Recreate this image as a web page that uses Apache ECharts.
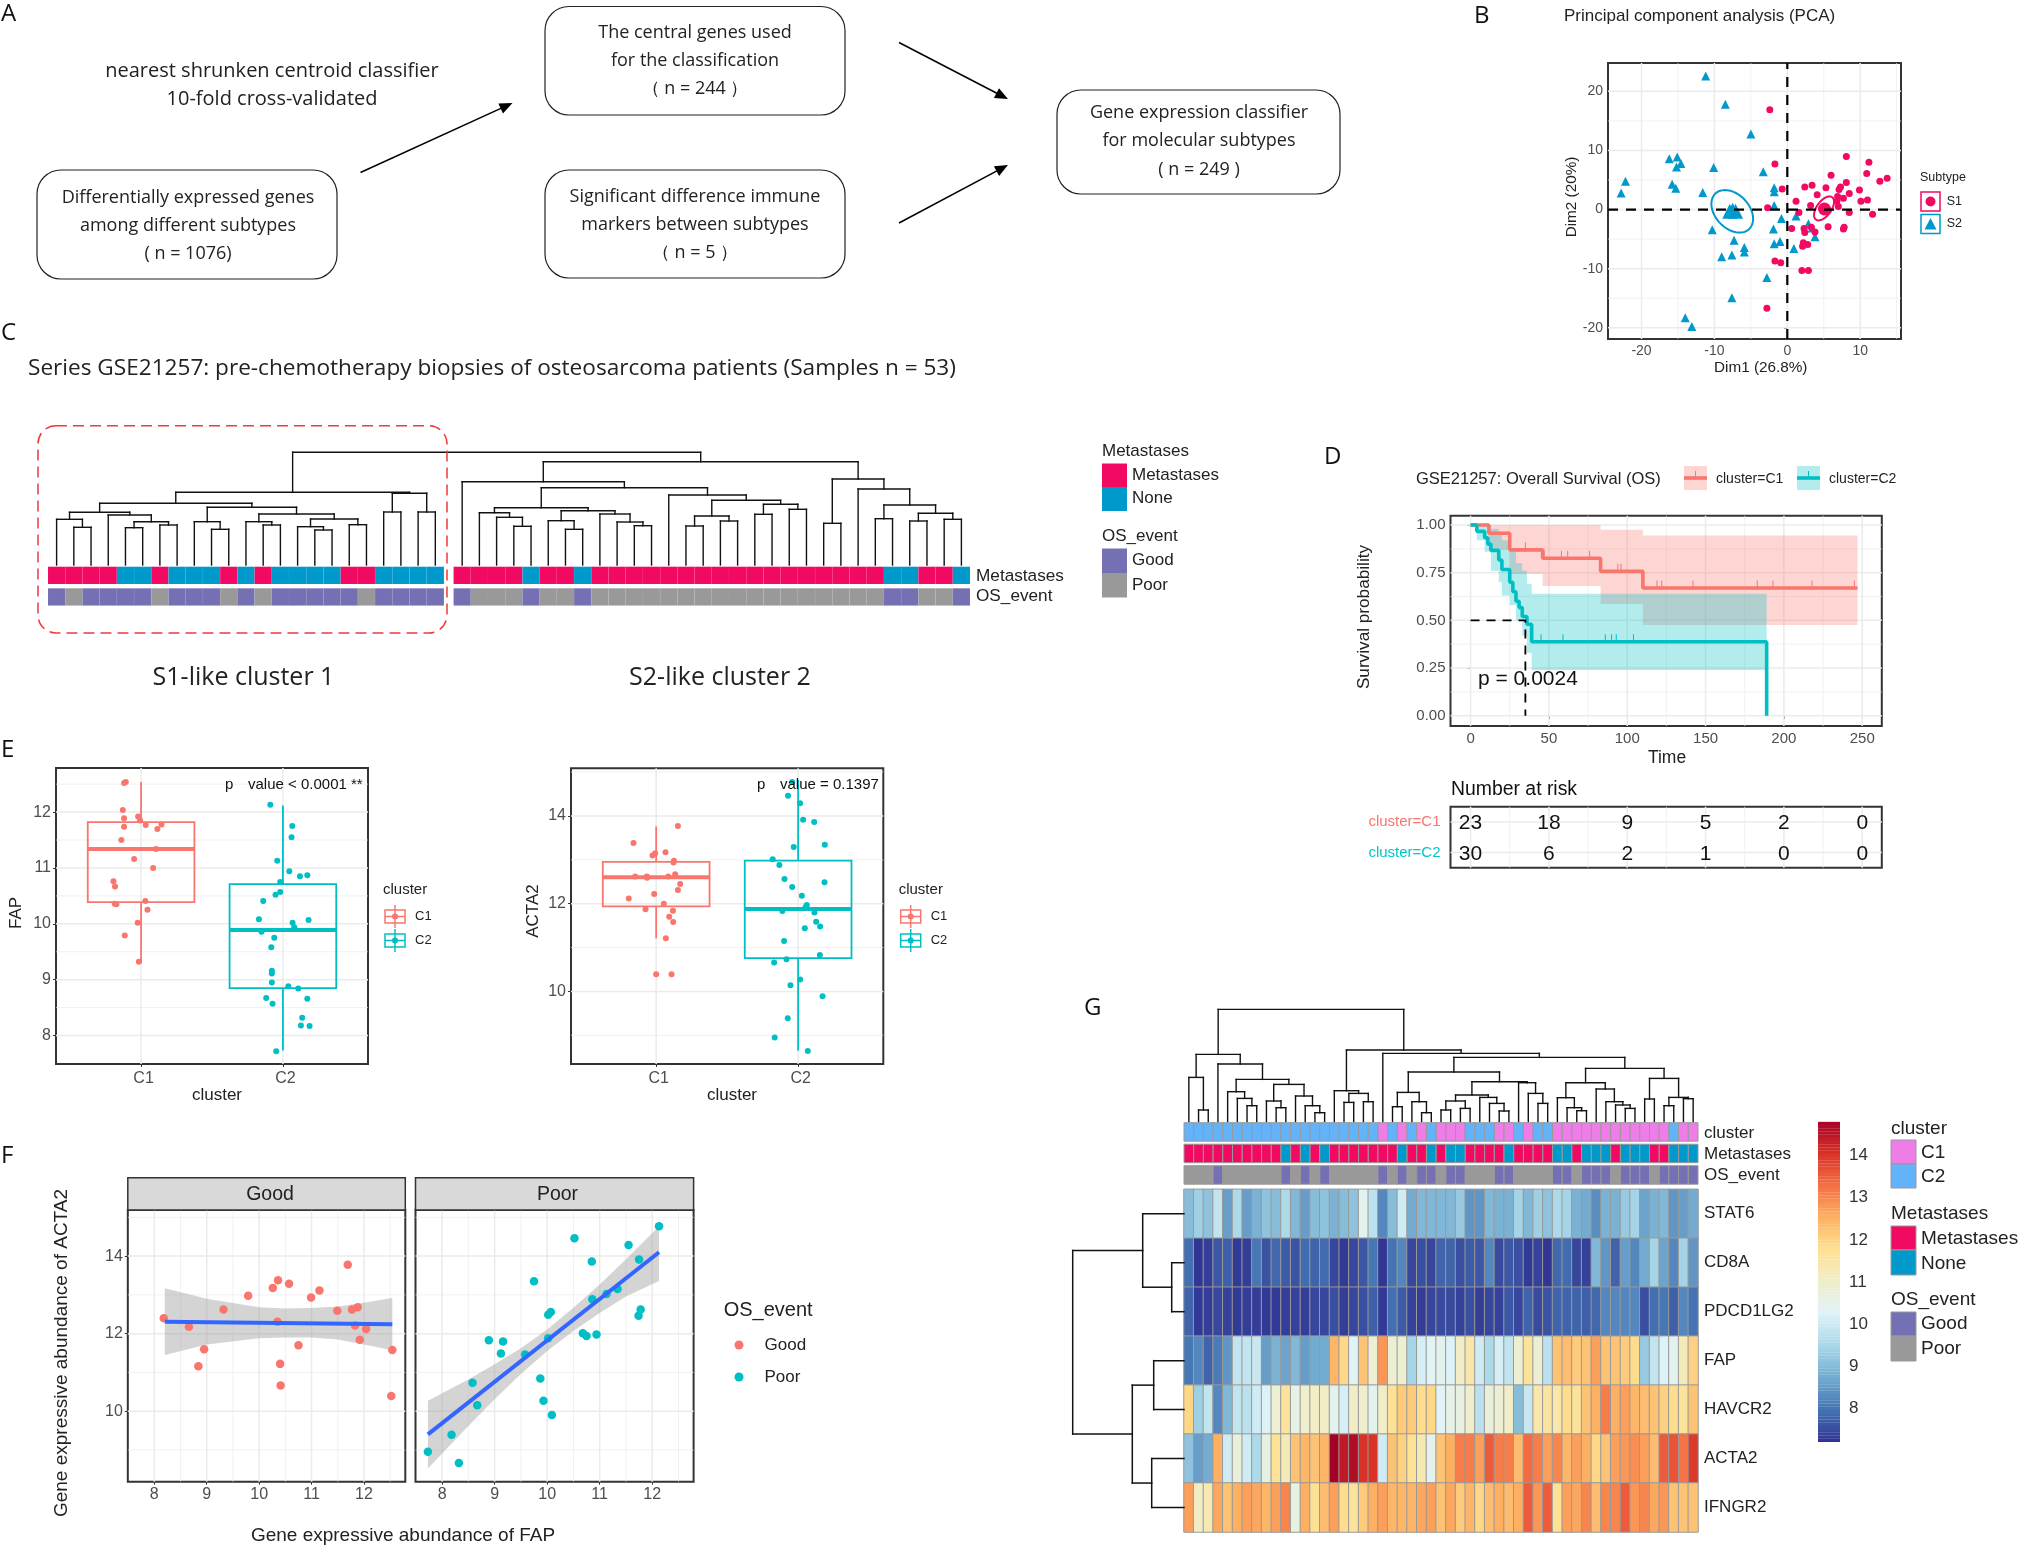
<!DOCTYPE html>
<html><head><meta charset="utf-8"><title>Figure</title>
<style>html,body{margin:0;padding:0;background:#fff}#c{width:2019px;height:1547px}</style>
<script src="https://cdn.jsdelivr.net/npm/echarts@6/dist/echarts.min.js"></script>
</head><body><div id="c"></div>
<script>
// ---------- PCA (B)
const pcaS1=[[-2.4,16.9],[-1.7,7.7],[8.1,9.0],[11.2,8.0],[10.9,6.1],[13.7,5.3],[12.7,4.8],[6.0,5.8],[8.1,4.6],[3.4,4.1],[2.4,3.8],[5.3,3.7],[7.3,3.8],[7.1,3.4],[-0.7,3.5],[9.9,3.3],[4.1,2.5],[8.5,2.7],[6.9,2.2],[7.7,1.9],[10.1,1.4],[11.0,1.6],[1.2,1.4],[6.8,1.4],[3.2,0.7],[7.0,0.5],[-2.7,0.3],[8.5,-0.5],[1.6,-0.5],[11.7,-0.8],[0.6,-3.2],[2.3,-3.2],[2.4,-3.9],[5.6,-2.9],[3.3,-3.0],[3.8,-3.8],[7.8,-3.0],[7.7,-3.3],[2.2,-5.6],[2.8,-5.9],[2.1,-6.2],[-1.7,-8.7],[-0.9,-9.0],[2.0,-10.3],[2.9,-10.3],[-2.8,-16.7]];
const pcaS2=[[-11.2,22.6],[-8.5,17.8],[-5.0,12.8],[-15.1,8.9],[-16.2,8.6],[-14.6,7.8],[-15.2,7.2],[-10.1,7.1],[-3.3,6.4],[-22.2,4.8],[-15.8,4.3],[-15.3,3.6],[-11.6,2.9],[-22.8,2.8],[-1.8,3.7],[-1.8,3.0],[-1.8,0.7],[-0.8,-1.5],[1.2,-1.1],[-10.3,-3.4],[-1.9,-3.3],[2.9,-2.4],[3.4,-3.1],[3.8,-4.6],[-7.3,-5.2],[-1.0,-5.4],[-1.8,-5.8],[0.9,-6.6],[-5.9,-6.4],[-5.9,-7.2],[-9.0,-8.0],[-7.6,-7.7],[-2.8,-11.5],[-7.6,-14.9],[-14.0,-18.3],[-13.1,-19.8]];
const pcaCentroidS1=[[5.1,0.1]];
const pcaCentroidS2=[[-7.5,-0.1],[-7.9,-0.3],[-7.1,-0.3]];
const pcaEllipseS1=[5.04,0.2,1.37,2.03,0.55];
const pcaEllipseS2=[-7.55,-0.3,2.86,3.6,-0.35];
// ---------- Survival (D)
const kmC1Time=[0,11.7,25,46,83,110,247];
const kmC1Surv=[1,0.957,0.87,0.826,0.757,0.67,0.67];
const kmC1Lo=[1,0.87,0.743,0.68,0.586,0.476];
const kmC1Hi=[1,1,1,1,0.975,0.945];
const kmC1Cens=[35,47,58,62,76,94,96,119,122,142,183,193,218,245];
const kmC2Time=[0,4,9,11,13,18,20,25,27,29,31,33,36,39,189,189];
const kmC2Surv=[1,0.967,0.933,0.9,0.867,0.817,0.767,0.7,0.65,0.6,0.567,0.52,0.48,0.388,0.388,0];
const kmC2BandTime=[0,4,9,13,18,20,25,29,33,36,39,189];
const kmC2Lo=[1,0.92,0.86,0.76,0.70,0.63,0.58,0.5,0.42,0.33,0.24];
const kmC2Hi=[1,1,1,0.98,0.95,0.92,0.87,0.8,0.76,0.69,0.64];
const kmC2Cens=[45,59,86,90,93,104];
const kmMedian=[[0,0.5],[35,0.5],[35,0]];
const riskTimes=[0,50,100,150,200,250];
const riskC1=[23,18,9,5,2,0];
const riskC2=[30,6,2,1,0,0];
// ---------- Boxplots (E)
const fapBoxes=[[1,9.3,10.39,11.34,11.82,12.54],[2,7.73,8.85,9.89,10.71,12.12]];
const acta2Boxes=[[1,11.21,11.94,12.6,12.95,13.76],[2,8.65,10.76,11.88,12.98,14.82]];
const fapC1=[[.892,12.54],[.88,12.52],[.871,12.04],[.979,11.92],[.88,11.89],[.993,11.85],[.88,11.74],[1.033,11.77],[1.115,11.7],[1.144,11.78],[.861,11.5],[1.106,11.34],[.951,11.16],[1.085,11.0],[.805,10.76],[.816,10.67],[1.03,10.41],[.814,10.36],[.826,10.35],[1.045,10.25],[.976,10.02],[.885,9.79],[.984,9.32]];
const fapC2=[[1.911,12.13],[2.066,11.75],[2.061,11.55],[1.96,11.13],[2.045,10.94],[2.12,10.85],[2.172,10.87],[1.981,10.75],[1.981,10.57],[1.948,10.52],[1.861,10.41],[1.831,10.08],[2.181,10.07],[2.068,10.02],[2.08,9.94],[1.849,9.86],[1.939,9.75],[1.918,9.58],[1.922,9.16],[1.922,9.11],[1.922,8.95],[2.038,8.88],[2.108,8.84],[1.882,8.67],[2.172,8.66],[1.927,8.57],[2.136,8.32],[2.127,8.18],[2.188,8.17],[1.953,7.72]];
const acta2C1=[[1.153,13.77],[.84,13.38],[1.066,13.17],[.993,13.15],[.974,13.1],[1.125,12.98],[1.122,12.94],[.852,12.62],[.934,12.62],[1.085,12.62],[1.134,12.67],[.936,12.59],[1.169,12.45],[1.153,12.31],[.986,12.22],[.807,12.12],[1.054,12.0],[.925,11.87],[1.118,11.84],[1.092,11.7],[1.12,11.58],[1.068,11.21],[1.0,10.39],[1.108,10.39]];
const acta2C2=[[1.958,14.77],[1.929,14.46],[2.014,14.29],[2.035,13.91],[2.113,13.86],[2.188,13.34],[1.969,13.29],[1.821,13.01],[1.868,12.88],[1.904,12.56],[2.186,12.49],[1.958,12.38],[2.026,12.18],[2.061,11.97],[2.052,11.92],[1.889,11.83],[2.115,11.8],[2.127,11.59],[2.155,11.48],[2.047,11.44],[1.901,11.15],[2.153,10.83],[1.918,10.73],[1.831,10.66],[2.014,10.27],[1.946,10.14],[2.172,9.89],[1.927,9.39],[1.835,8.95],[2.068,8.64]];
// ---------- Correlation (F)
const corrGood=[[8.18,12.4],[8.66,12.18],[8.84,11.16],[8.95,11.6],[9.32,12.62],[9.79,12.98],[10.26,13.18],[10.36,13.38],[10.57,13.29],[10.35,12.31],[10.4,11.22],[10.41,10.66],[10.75,11.7],[10.99,12.93],[11.15,13.11],[11.49,12.59],[11.69,13.78],[11.77,12.62],[11.88,12.68],[11.83,12.21],[11.92,11.84],[12.04,12.12],[12.54,11.58],[12.52,10.39]];
const corrPoor=[[7.73,8.95],[8.18,9.39],[8.32,8.66],[8.58,10.73],[8.67,10.15],[8.89,11.83],[9.16,11.8],[9.12,11.49],[9.58,11.46],[9.75,13.35],[9.87,10.84],[9.93,10.27],[10.09,9.9],[10.02,11.88],[10.02,12.49],[10.07,12.56],[10.52,14.46],[10.68,12.01],[10.75,11.94],[10.94,11.98],[10.85,13.86],[10.86,12.89],[11.13,13.02],[11.34,13.15],[11.55,14.29],[11.75,13.91],[11.74,12.46],[11.78,12.62],[12.13,14.77]];
const fitGood=[[8.2,12.31],[12.54,12.24]];
const fitPoor=[[7.73,9.4],[12.13,14.1]];
const bandGood=[[8.2,11.45,13.17],[9,11.72,12.9],[10,11.88,12.68],[10.5,11.9,12.65],[11,11.9,12.66],[11.5,11.85,12.7],[12,11.72,12.8],[12.54,11.57,12.92]];
const bandPoor=[[7.73,8.52,10.27],[8.5,9.62,10.82],[9,10.31,11.21],[9.5,10.96,11.62],[10,11.55,12.11],[10.5,12.07,12.67],[11,12.53,13.27],[11.5,12.96,13.92],[12.13,13.36,14.77]];
// ---------- Cluster dendrogram + annotation (C). node=[height,left,right], leaf=0
const treeC1=[72.7,[61.7,[52.7,[45.7,0,[37.7,0,0]],[50,0,[43.3,[37.3,0,0],[40,0,0]]]],[57.7,[43.3,0,[35.7,0,0]],[51,[43.3,0,[40,0,0]],[46,[38.3,0,[35,0,0]],[40.3,0,0]]]]],[71.7,[53,0,0],[53,0,0]]];
const treeC2=[103.3,[83.3,0,[77.3,[57.3,[52.3,0,[47.7,0,[38.7,0,0]]],[54.3,[44.3,0,[35.7,0,0]],[51,0,[43,0,[39.3,0,0]]]]],[70,0,[64.7,[49,[39,0,0],[44,0,0]],[60.7,[50.7,0,0],[55.7,0,0]]]]]],[86,[41.7,0,0],[76,0,[60,[46.3,0,0],[51.7,[44,0,0],[45.7,0,0]]]]]];
const treeCRootHeight=112.7;
const metCluster1='MMMMNNMNNNMNMNNNNMMNNNN';
const osCluster1='GPGGGGPGGGPGPGGGGGPGGGG';
const metCluster2='MMMMNMMNMMMMMMMMMMMMMMMMMNNMMN';
const osCluster2='GPPPGPPGPPPPPPPPPPPPPPPPPGGPPG';
// ---------- Heatmap (G)
const genes=['STAT6','CD8A','PDCD1LG2','FAP','HAVCR2','ACTA2','IFNGR2'];
const hmSTAT6=[9.0,9.3,9.1,9.8,8.5,9.5,8.5,8.8,9.1,9.0,9.5,8.9,8.5,9.0,9.1,8.8,9.0,9.1,10.4,9.7,8.2,9.0,10.0,8.7,8.9,8.9,8.9,8.9,9.2,8.4,8.4,8.9,8.8,8.8,9.4,8.9,9.3,9.1,9.5,9.4,8.8,8.7,8.3,8.8,8.8,9.2,9.4,8.6,8.8,8.9,8.4,8.5,8.7];
const hmCD8A=[7.9,7.2,7.3,7.6,7.7,7.25,7.3,8.0,7.55,7.8,7.65,7.55,7.85,7.75,7.85,7.4,7.25,7.4,7.6,8.0,7.2,7.95,8.2,7.4,7.5,7.4,7.75,7.75,7.5,7.65,7.6,8.2,7.45,7.6,7.5,7.25,7.35,7.2,7.8,7.85,7.4,7.35,8.9,8.4,7.75,8.5,8.2,8.7,9.4,8.6,8.2,9.4,8.4];
const hmPDCD1LG2=[7.75,7.25,7.3,7.4,7.35,7.25,7.3,7.3,7.25,7.25,7.3,7.35,7.3,7.4,7.4,7.5,7.3,7.4,7.5,7.7,7.25,7.9,7.65,7.35,7.3,7.4,7.45,7.45,7.35,7.5,7.3,7.4,7.35,7.6,7.4,7.75,7.45,7.55,7.75,7.75,7.75,7.7,7.8,8.2,8.2,8.2,8.2,7.5,7.9,8.0,7.7,8.2,7.95];
const hmFAP=[8.0,8.2,7.75,8.05,8.4,9.8,9.8,9.9,8.5,8.8,8.6,8.9,8.5,8.7,8.7,12.4,11.9,10.3,12.2,10.8,12.8,10.8,10.8,9.4,10.1,10.3,10.4,10.2,11.0,11.4,10.0,9.5,10.1,9.8,10.8,11.6,10.8,9.7,12.2,12.3,12.1,12.2,12.7,12.2,12.2,12.1,11.8,9.2,9.8,10.2,10.4,11.2,12.0];
const hmHAVCR2=[11.9,9.3,9.8,8.2,8.9,9.8,9.7,10.0,10.2,10.8,11.6,10.5,10.9,11.0,11.0,10.4,10.1,11.0,10.9,10.4,11.0,11.7,12.1,12.1,11.8,11.9,10.3,10.5,10.6,10.9,9.7,10.7,10.8,11.0,9.0,9.9,11.4,11.5,11.4,11.8,11.6,12.2,12.5,13.1,12.5,12.7,12.4,12.3,12.2,12.0,11.8,11.6,12.2];
const hmACTA2=[9.1,8.5,8.7,12.5,10.0,10.7,10.0,9.5,10.6,11.7,11.2,12.2,12.4,12.2,12.4,14.8,14.4,14.6,14.0,14.0,10.0,12.2,12.0,11.7,11.3,10.4,12.2,12.5,13.1,13.1,12.7,13.5,13.1,13.1,12.3,13.3,13.1,12.7,13.0,12.4,12.7,12.5,11.9,12.2,12.7,12.8,12.9,12.7,12.3,13.5,13.6,13.2,13.9];
const hmIFNGR2=[12.7,11.0,11.3,12.6,12.2,12.5,12.7,12.6,12.4,12.7,13.0,10.6,12.5,11.7,12.3,12.7,11.8,11.6,12.1,12.5,12.7,12.4,12.4,12.4,12.6,12.7,12.2,12.6,12.1,12.4,11.9,12.3,12.5,12.3,12.5,13.5,12.8,13.5,11.7,12.7,12.6,13.0,12.3,13.0,13.0,13.5,12.8,13.0,12.6,12.8,12.2,12.2,12.2];
const annCluster='BBBBBBBBBBBBBBBBBBBBABABABAAABBBAABABBAAAAAAAAAAAABAA';
const annMet='MMMMMMMMMMNMNMNMMMMMMMNMMNMNNMMMMNMMMMNNMNNNMNNNMMNNN';
const annOS='PPPGPPPPPPGPGPGPPPPPGPGPGGPGGPPPGGPPPPGGPGGGPGGGPGGGG';
const treeGCols=[112.3,[67.3,[44.3,0,[11.7,0,0]],[57.7,0,[42.3,[30,0,[23.3,0,[16,0,0]]],[37.3,[20.7,0,[14,0,0]],[25.7,0,[16,0,[9,0,0]]]]]]],[71.7,[31,0,[28.3,[19.3,0,0],[20,0,0]]],[68.3,0,[64.3,[49.7,[29.3,[15,0,0],[20,0,[9,0,0]]],[40,[26.7,[20.7,[11.7,0,0],[13.3,0,0]],[24.3,0,[18.3,0,[10.7,0,0]]]],[39,0,[28.3,0,[18.3,0,0]]]]],[53.3,[39,[24,0,[14,0,[11,0,0]]],[32.7,0,[20,0,[16.7,0,[13.3,0,0]]]]],[43.3,[22.7,0,0],[24.3,[16,0,0],[23,0,0]]]]]]]];
const treeGRows=[111.3,[41.3,0,[12.3,0,0]],[51.7,[30.3,0,0],[32.3,0,0]]];
const colorbarTicks=[8,9,10,11,12,13,14];

// ---------- helpers
const F='"Liberation Sans", Arial, sans-serif', FA='"Open Sans", sans-serif';
const RED='#f8766d', TEAL='#00bfc4', MET='#f20a62', NONE='#0099cc', GOOD='#7570b3', POOR='#999999', PINK='#ee7de8', SKY='#63b3fb';
const YPAD=[3,0,0,0];
const zip=(a,b)=>a.map((v,i)=>[v,b[i]]);
const grids=[],xAxes=[],yAxes=[],series=[],gfx=[];
function panel(l,t,r,b,xa,ya,frame){const i=grids.length;
 grids.push({left:l,top:t,width:r-l,height:b-t,show:!!frame,borderColor:'#333',borderWidth:frame||0,backgroundColor:'transparent'});
 xAxes.push(Object.assign({gridIndex:i},xa));yAxes.push(Object.assign({gridIndex:i},ya));return i;}
const hid=(min,max,inv)=>({type:'value',show:false,min,max,inverse:!!inv,splitLine:{show:false}});
const vax=(min,max,ticks,fs,fmt,margin,pad)=>({type:'value',min,max,splitLine:{show:false},axisLine:{show:false},
 axisTick:{show:true,customValues:ticks,length:3,lineStyle:{color:'#333',width:1}},
 axisLabel:{customValues:ticks,color:'#4d4d4d',fontSize:fs,fontFamily:F,margin:margin||5,padding:pad||0,formatter:fmt||(v=>String(v))}});
function gridLines(g,xMaj,xMin,yMaj,yMin,ext){
 const d=[];xMaj.forEach(v=>d.push([0,v,1.5]));xMin.forEach(v=>d.push([0,v,.7]));yMaj.forEach(v=>d.push([1,v,1.5]));yMin.forEach(v=>d.push([1,v,.7]));
 series.push({type:'custom',xAxisIndex:g,yAxisIndex:g,silent:true,clip:false,data:d,
  renderItem:(p,api)=>{const k=api.value(0),v=api.value(1),w=api.value(2);
   const a=k?api.coord([ext[0],v]):api.coord([v,ext[2]]),b=k?api.coord([ext[1],v]):api.coord([v,ext[3]]);
   return {type:'line',shape:{x1:a[0],y1:a[1],x2:b[0],y2:b[1]},style:{stroke:'#ebebeb',lineWidth:w}};}});
}
function treeSegments(node,leafX,horizontal){const segs=[];let n=0;
 const push=(a,b,c,d)=>segs.push(horizontal?[b,a,d,c]:[a,b,c,d]);
 (function walk(nd){if(nd===0){return [leafX(n++),0];}
  const L=walk(nd[1]),R=walk(nd[2]),h=nd[0];
  push(L[0],L[1],L[0],h);push(R[0],R[1],R[0],h);push(L[0],h,R[0],h);
  return [(L[0]+R[0])/2,h];})(node);
 return segs;}
function segSeries(g,segs,w){series.push({type:'custom',xAxisIndex:g,yAxisIndex:g,silent:true,clip:false,data:segs,
  renderItem:(p,api)=>{const a=api.coord([api.value(0),api.value(1)]),b=api.coord([api.value(2),api.value(3)]);
   return {type:'line',shape:{x1:a[0],y1:a[1],x2:b[0],y2:b[1]},style:{stroke:'#111',lineWidth:w||1.4,lineCap:'square'}};}});}
function cells(g,rows,palette,xOf,h,stroke,lw){const codes=Object.keys(palette),d=[];
 rows.forEach((s,r)=>s.split('').forEach((c,i)=>d.push([xOf(i),r,codes.indexOf(c)])));
 series.push({type:'custom',xAxisIndex:g,yAxisIndex:g,silent:true,clip:false,data:d,
  renderItem:(p,api)=>{const x=api.value(0),y=api.value(1),a=api.coord([x,y]),b=api.coord([x+1,y+h]);
   return {type:'rect',shape:{x:a[0],y:a[1],width:b[0]-a[0],height:b[1]-a[1]},style:{fill:palette[codes[api.value(2)]],stroke,lineWidth:lw}};}});}
function scatter(g,data,color,size,sym,off){series.push({type:'scatter',xAxisIndex:g,yAxisIndex:g,silent:true,data,symbol:sym||'circle',symbolSize:size,symbolOffset:off||[0,0],itemStyle:{color,opacity:1}});}
function line(g,data,color,w,dash,step){series.push({type:'line',xAxisIndex:g,yAxisIndex:g,silent:true,data,showSymbol:false,symbol:'none',step:step||false,clip:false,lineStyle:{color,width:w,type:dash||'solid'}});}
function ellipse(g,e,color){const o=[];for(let k=0;k<=72;k++)o.push(k);
 series.push({type:'custom',xAxisIndex:g,yAxisIndex:g,silent:true,clip:false,data:[[e[0],e[1]]],
  renderItem:(p,api)=>{const pts=o.map(k=>{const t=k/72*2*Math.PI;return api.coord([e[0]+e[2]*Math.cos(t),e[1]+e[3]*(e[4]*Math.cos(t)+Math.sqrt(1-e[4]*e[4])*Math.sin(t))]);});
   return {type:'polygon',shape:{points:pts},style:{fill:'none',stroke:color,lineWidth:2}};}});}
function stepBand(g,t,lo,hi,color){const d=lo.map((v,i)=>[t[i],t[i+1],v,hi[i]]);
 series.push({type:'custom',xAxisIndex:g,yAxisIndex:g,silent:true,data:d,
  renderItem:(p,api)=>{const a=api.coord([api.value(0),api.value(3)]),b=api.coord([api.value(1),api.value(2)]);
   return {type:'rect',shape:{x:a[0],y:a[1],width:b[0]-a[0],height:b[1]-a[1]},style:{fill:color,opacity:.3}};}});}
function polyBand(g,band){series.push({type:'custom',xAxisIndex:g,yAxisIndex:g,silent:true,data:[band[0]],
  renderItem:(p,api)=>{const pts=band.map(r=>api.coord([r[0],r[2]])).concat(band.slice().reverse().map(r=>api.coord([r[0],r[1]])));
   return {type:'polygon',shape:{points:pts},style:{fill:'rgba(153,153,153,.42)'}};}});}
function boxes(g,data,colors){series.push({type:'custom',xAxisIndex:g,yAxisIndex:g,silent:true,data,
  renderItem:(p,api)=>{const x=api.value(0),hw=.376,c=colors[p.dataIndex],
    P=(a,b)=>api.coord([a,b]),lo=P(x,api.value(1)),q1=P(x,api.value(2)),m=P(x,api.value(3)),q3=P(x,api.value(4)),hi=P(x,api.value(5)),l=P(x-hw,0)[0],r=P(x+hw,0)[0];
    const st={stroke:c,lineWidth:1.8,fill:'none'};
    return {type:'group',children:[
     {type:'line',shape:{x1:lo[0],y1:lo[1],x2:lo[0],y2:q1[1]},style:st},
     {type:'line',shape:{x1:hi[0],y1:hi[1],x2:hi[0],y2:q3[1]},style:st},
     {type:'rect',shape:{x:l,y:q3[1],width:r-l,height:q1[1]-q3[1]},style:st},
     {type:'line',shape:{x1:l,y1:m[1],x2:r,y2:m[1]},style:{stroke:c,lineWidth:4}}]};}});}
// graphic helpers
function T(x,y,text,o){o=o||{};const el={type:'text',z:100,silent:true,x:o.rot?x+1.5:x,y:o.rot?y:y+1.5,rotation:o.rot||0,
  style:{x:0,y:0,text,fontSize:o.fs||15,fontFamily:o.ff||F,fill:o.c||'#222',align:o.a||'left',verticalAlign:'middle',fontWeight:'normal'}};gfx.push(el);}
const R=(x,y,w,h,s,r)=>gfx.push({type:'rect',z:99,silent:true,shape:{x,y,width:w,height:h,r:r||0},style:s});
const L=(x1,y1,x2,y2,s)=>gfx.push({type:'line',z:99,silent:true,shape:{x1,y1,x2,y2},style:s});
const C=(cx,cy,r,fill)=>gfx.push({type:'circle',z:100,silent:true,shape:{cx,cy,r},style:{fill}});
function arrow(x1,y1,x2,y2){const a=Math.atan2(y2-y1,x2-x1),s=13,w=5.5;
 L(x1,y1,x2-Math.cos(a)*s*.8,y2-Math.sin(a)*s*.8,{stroke:'#000',lineWidth:1.5});
 gfx.push({type:'polygon',z:100,silent:true,shape:{points:[[x2,y2],[x2-s*Math.cos(a)+w*Math.sin(a),y2-s*Math.sin(a)-w*Math.cos(a)],[x2-s*Math.cos(a)-w*Math.sin(a),y2-s*Math.sin(a)+w*Math.cos(a)]]},style:{fill:'#000'}});}

// ---------- Panel letters
[['A',1,13],['B',1474,15],['C',1,332],['D',1324,456],['E',1,749],['F',1,1155],['G',1084,1007]].forEach(a=>T(a[1],a[2],a[0],{fs:24,ff:FA,c:'#111'}));

// ---------- Panel A
const boxStyle={fill:'#fff',stroke:'#222',lineWidth:1.2};
R(37,170,300,109,boxStyle,24);R(545,6.5,300,108.5,boxStyle,24);R(545,170,300,108,boxStyle,24);R(1057,90,283,104,boxStyle,24);
[['nearest shrunken centroid classifier',272,69.5,20],['10-fold cross-validated',272,98,20],
 ['Differentially expressed genes',188,196,18],['among different subtypes',188,224,18],['( n = 1076)',188,252,18],
 ['The central genes used',695,31,18],['for the classification',695,59.5,18],['（ n = 244 ）',695,87,18],
 ['Significant difference immune',695,195,18],['markers between subtypes',695,223,18],['（ n = 5 ）',695,251,18],
 ['Gene expression classifier',1199,111,18],['for molecular subtypes',1199,139,18],['( n = 249 )',1199,168,18]
].forEach(a=>T(a[1],a[2],a[0],{fs:a[3],ff:FA,a:'center',c:'#222'}));
arrow(360.5,172.5,512.5,103);arrow(899,42.5,1008,99);arrow(899,223,1008,165);

// ---------- Panel B
{const ext=[-24.6,15.6,-21.9,24.8];
 const g=panel(1608,63,1901,339,vax(ext[0],ext[1],[-20,-10,0,10],14),vax(ext[2],ext[3],[-20,-10,0,10,20],14,null,5,YPAD),2);
 gridLines(g,[-20,-10,0,10],[-15,-5,5,15],[-20,-10,0,10,20],[-15,-5,5,15],ext);
 scatter(g,pcaS2,NONE,9,'triangle');scatter(g,pcaS1,MET,7);
 scatter(g,pcaCentroidS2,NONE,15,'triangle');scatter(g,pcaCentroidS1,MET,13);
 ellipse(g,pcaEllipseS2,NONE);ellipse(g,pcaEllipseS1,MET);
 line(g,[[ext[0],0],[ext[1],0]],'#000',2.2,[10,8]);line(g,[[0,ext[2]],[0,ext[3]]],'#000',2.2,[10,8]);
 T(1564,15,'Principal component analysis (PCA)',{fs:17});
 T(1760.7,366,'Dim1 (26.8%)',{fs:15.3,a:'center'});T(1570.7,197,'Dim2 (20%)',{fs:15.3,a:'center',rot:Math.PI/2});
 T(1920,176,'Subtype',{fs:12.5});
 R(1921,192,19,19,{fill:'#fff',stroke:MET,lineWidth:1.5});C(1930.5,201.5,5,MET);
 R(1921,214.5,19,19,{fill:'#fff',stroke:NONE,lineWidth:1.5});
 gfx.push({type:'polygon',z:100,silent:true,shape:{points:[[1930.5,218],[1936.5,229.5],[1924.5,229.5]]},style:{fill:NONE}});
 T(1946.7,200,'S1',{fs:12.5});T(1946.7,222,'S2',{fs:12.5});
}

// ---------- Panel C
{const gap=.56,leafX=i=>i<23?i+.5:i+.5+gap;
 const g=panel(48,450,970,565,hid(0,53.56),hid(0,115));
 segSeries(g,treeSegments([treeCRootHeight,treeC1,treeC2],leafX),1.4);
 const a=panel(48,566.7,970,605,hid(0,53.56),hid(0,1.773,true));
 cells(a,[metCluster1+metCluster2,osCluster1+osCluster2],{M:MET,N:NONE,G:GOOD,P:POOR},i=>leafX(i)-.5,.8,'rgba(255,255,255,.08)',.5);
 R(38,425.7,409,207.3,{fill:'none',stroke:'#ee3b3b',lineWidth:1.5,lineDash:[11,6]},18);
 T(28,367,'Series GSE21257: pre-chemotherapy biopsies of osteosarcoma patients (Samples n = 53)',{fs:22.6,ff:FA});
 T(976,574.6,'Metastases',{fs:17.2});T(976,595,'OS_event',{fs:17.2});
 T(243.5,676,'S1-like cluster 1',{fs:25,ff:FA,a:'center'});T(720,676,'S2-like cluster 2',{fs:25,ff:FA,a:'center'});
 T(1102,450,'Metastases',{fs:17});R(1102,463.5,25,23.5,{fill:MET});R(1102,487,25,24,{fill:NONE});T(1132,474,'Metastases',{fs:17});T(1132,497,'None',{fs:17});
 T(1102,535,'OS_event',{fs:17});R(1102,548.5,25,24.5,{fill:GOOD});R(1102,573,25,24.5,{fill:POOR});T(1132,559,'Good',{fs:17});T(1132,584,'Poor',{fs:17});
}

// ---------- Panel D
{const ext=[-12.8,262.5,-0.054,1.049];
 const g=panel(1450.5,515.7,1881.8,726,vax(ext[0],ext[1],riskTimes,15),vax(ext[2],ext[3],[0,.25,.5,.75,1],15,v=>v.toFixed(2),5,YPAD),2);
 gridLines(g,riskTimes,[25,75,125,175,225],[0,.25,.5,.75,1],[.125,.375,.625,.875],ext);
 stepBand(g,kmC1Time,kmC1Lo,kmC1Hi,RED);stepBand(g,kmC2BandTime,kmC2Lo,kmC2Hi,TEAL);
 line(g,zip(kmC1Time,kmC1Surv),RED,3.6,null,'end');line(g,zip(kmC2Time,kmC2Surv),TEAL,3.6,null,'end');
 line(g,kmMedian,'#000',1.8,[9,7]);
 scatter(g,kmC1Cens.map(t=>[t,kmC1Surv[kmC1Time.findLastIndex(x=>x<=t)]]),RED,[1,9],'rect',[0,-3]);
 scatter(g,kmC2Cens.map(t=>[t,.388]),TEAL,[1,9],'rect',[0,-3]);
 T(1478,678,'p = 0.0024',{fs:21,c:'#111'});
 T(1416,478,'GSE21257: Overall Survival (OS)',{fs:16.5});
 R(1684,466,23,24,{fill:RED,opacity:.3});L(1684,478,1707,478,{stroke:RED,lineWidth:3.6});L(1695.5,471,1695.5,478,{stroke:RED,lineWidth:1});
 R(1797,466,23,24,{fill:TEAL,opacity:.3});L(1797,478,1820,478,{stroke:TEAL,lineWidth:3.6});L(1808.5,471,1808.5,478,{stroke:TEAL,lineWidth:1});
 T(1716,478,'cluster=C1',{fs:14});T(1829,478,'cluster=C2',{fs:14});
 T(1667,757,'Time',{fs:17.5,a:'center'});T(1362.5,617,'Survival probability',{fs:17.2,a:'center',rot:Math.PI/2});
 // risk table
 const r=panel(1450.5,806.7,1881.8,867.7,hid(ext[0],ext[1]),{type:'category',data:['cluster=C1','cluster=C2'],inverse:true,splitLine:{show:false},axisLine:{show:false},axisTick:{show:false},
   axisLabel:{fontSize:15,fontFamily:F,margin:10,padding:YPAD,color:(v,i)=>i===0?'#f8766d':'#00c5c9'}},2);
 const rl=[];riskTimes.concat([25,75,125,175,225]).forEach((v,i)=>rl.push([v,0,i<6?1.5:.7]));
 series.push({type:'custom',xAxisIndex:r,yAxisIndex:r,silent:true,clip:false,data:rl,renderItem:(p,api)=>{const x=api.coord([api.value(0),0])[0];
   return {type:'line',shape:{x1:x,y1:806.7,x2:x,y2:867.7},style:{stroke:'#ebebeb',lineWidth:api.value(2)}};}});
 series.push({type:'custom',xAxisIndex:r,yAxisIndex:r,silent:true,data:[[0,0],[0,1]],renderItem:(p,api)=>{const y=api.coord([0,api.value(1)])[1],a=api.coord([ext[0],0])[0],b=api.coord([ext[1],0])[0];
   return {type:'line',shape:{x1:a,y1:y,x2:b,y2:y},style:{stroke:'#ebebeb',lineWidth:1.5}};}});
 const rt=[];riskTimes.forEach((t,i)=>{rt.push([t,0,riskC1[i]]);rt.push([t,1,riskC2[i]]);});
 series.push({type:'custom',xAxisIndex:r,yAxisIndex:r,silent:true,clip:false,data:rt,renderItem:(p,api)=>{const a=api.coord([api.value(0),api.value(1)]);
   return {type:'text',style:{x:a[0],y:a[1]+1.5,text:String(api.value(2)),fontSize:21,fontFamily:F,fill:'#111',align:'center',verticalAlign:'middle'}};}});
 T(1451,788,'Number at risk',{fs:19.4,c:'#111'});
}

// ---------- Panel E
const xLab=v=>v===1?'C1':v===2?'C2':'';
function legendBox(dx){T(383+dx,888,'cluster',{fs:15});
 [[910,RED,'C1'],[934,TEAL,'C2']].forEach(k=>{R(385+dx,k[0],20,13,{fill:'#fff',stroke:k[1],lineWidth:1.5});L(395+dx,k[0]-5,395+dx,k[0]+18,{stroke:k[1],lineWidth:1.5});
  L(385+dx,k[0]+6.5,405+dx,k[0]+6.5,{stroke:k[1],lineWidth:1.5});C(395+dx,k[0]+6.5,3,k[1]);T(415+dx,k[0]+5,k[2],{fs:13});});}
{const ext=[.4,2.6,7.49,12.79];
 const g=panel(56,768,368,1064,vax(.4,2.6,[1,2],16,xLab,7,[0,0,0,5]),vax(ext[2],ext[3],[8,9,10,11,12],16,null,5,YPAD),2);
 gridLines(g,[1,2],[],[8,9,10,11,12],[8.5,9.5,10.5,11.5,12.5],ext);
 boxes(g,fapBoxes,[RED,TEAL]);scatter(g,fapC1,RED,6);scatter(g,fapC2,TEAL,6);
 T(225,783,'p',{fs:15,c:'#111'});T(248,783,'value < 0.0001 **',{fs:15,c:'#111'});
 T(217,1094,'cluster',{fs:17,a:'center'});T(15,913,'FAP',{fs:17,a:'center',rot:Math.PI/2});legendBox(0);
}
{const ext=[.4,2.6,8.345,15.085];
 const g=panel(571,768.3,883.3,1064,vax(.4,2.6,[1,2],16,xLab,7,[0,0,0,5]),vax(ext[2],ext[3],[10,12,14],16,null,5,YPAD),2);
 gridLines(g,[1,2],[],[10,12,14],[9,11,13,15],ext);
 boxes(g,acta2Boxes,[RED,TEAL]);scatter(g,acta2C1,RED,6);scatter(g,acta2C2,TEAL,6);
 T(757,783,'p',{fs:15,c:'#111'});T(780,783,'value = 0.1397',{fs:15,c:'#111'});
 T(732,1094,'cluster',{fs:17,a:'center'});T(532,911,'ACTA2',{fs:17,a:'center',rot:Math.PI/2});legendBox(515.7);
}

// ---------- Panel F
{const ext=[7.494,12.788,8.18,15.19];
 const tx=[8,9,10,11,12],mx=[8.5,9.5,10.5,11.5,12.5],ty=[10,12,14],my=[9,11,13,15];
 const a=panel(127.8,1210,405.3,1481.7,vax(ext[0],ext[1],tx,16),vax(ext[2],ext[3],ty,16,null,5,YPAD),2);
 gridLines(a,tx,mx,ty,my,ext);scatter(a,corrGood,RED,8.5);polyBand(a,bandGood);line(a,fitGood,'#3366ff',4);
 const yh=vax(ext[2],ext[3],ty,16);yh.axisLabel=Object.assign({},yh.axisLabel,{show:false});
 const b=panel(415.5,1210,693.6,1481.7,vax(ext[0],ext[1],tx,16),Object.assign(yh,{axisTick:{show:false}}),2);
 gridLines(b,tx,mx,ty,my,ext);scatter(b,corrPoor,TEAL,8.5);polyBand(b,bandPoor);line(b,fitPoor,'#3366ff',4);
 R(127.8,1177.7,277.5,32.3,{fill:'#d9d9d9',stroke:'#333',lineWidth:1.5});R(415.5,1177.7,278.1,32.3,{fill:'#d9d9d9',stroke:'#333',lineWidth:1.5});
 T(270,1193,'Good',{fs:19.5,a:'center'});T(557.5,1193,'Poor',{fs:19.5,a:'center'});
 T(403,1534,'Gene expressive abundance of FAP',{fs:19,a:'center'});
 T(60,1353,'Gene expressive abundance of ACTA2',{fs:19,a:'center',rot:Math.PI/2});
 T(723.7,1309,'OS_event',{fs:20});C(739,1345,4.5,RED);C(739,1377,4.5,TEAL);T(764.5,1344,'Good',{fs:17});T(764.5,1376,'Poor',{fs:17});
}

// ---------- Panel G
{const colNames=hmSTAT6.map((v,i)=>String(i+1));
 const rows=[hmSTAT6,hmCD8A,hmPDCD1LG2,hmFAP,hmHAVCR2,hmACTA2,hmIFNGR2];
 const d=panel(1184,1005,1698,1121.7,hid(0,53),hid(0,116.7));
 segSeries(d,treeSegments(treeGCols,i=>i+.5),1.4);
 const a=panel(1184,1122.7,1698,1184,hid(0,53),hid(0,2.85,true));
 cells(a,[annCluster,annMet,annOS],{A:PINK,B:SKY,M:MET,N:NONE,G:GOOD,P:POOR},i=>i,.86,'#999',1);
 const hd=[];rows.forEach((r,y)=>r.forEach((v,x)=>hd.push([x,y,v])));
 const h=panel(1184,1189.3,1698,1532,{type:'category',data:colNames,show:false,splitLine:{show:false}},
   {type:'category',data:genes,inverse:true,position:'right',splitLine:{show:false},axisLine:{show:false},axisTick:{show:false},axisLabel:{fontSize:17,fontFamily:F,color:'#222',margin:6,padding:[5,0,0,0]}});
 const hIdx=series.length;
 series.push({type:'heatmap',xAxisIndex:h,yAxisIndex:h,silent:true,data:hd,progressive:0,itemStyle:{borderColor:'#999',borderWidth:1}});
 const rd=panel(1072,1189.3,1184,1532,hid(0,112,true),hid(0,7,true));
 segSeries(rd,treeSegments(treeGRows,i=>i+.5,true),1.5);
 const cb=panel(1818,1122,1840,1442,hid(0,1),Object.assign(vax(7.2,14.8,colorbarTicks,17,null,9,YPAD),{position:'right',axisTick:{show:false}}));
 yAxes[cb].axisLabel.color='#333';
 const levels=[];for(let v=7.2;v<14.8;v+=.076)levels.push(v);
 const cbIdx=series.length;
 series.push({type:'custom',xAxisIndex:cb,yAxisIndex:cb,silent:true,data:levels.map(v=>[0,v,v]),dimensions:['a','b','c'],
   renderItem:(p,api)=>{const v=api.value(1),A=api.coord([0,v+.08]),B=api.coord([1,v]);
    return {type:'rect',shape:{x:A[0],y:A[1],width:B[0]-A[0],height:B[1]-A[1]},style:{fill:api.visual('color')}};}});
 window.__vm={type:'continuous',show:false,min:7.2,max:14.8,dimension:2,seriesIndex:[hIdx,cbIdx],
   inRange:{color:['#313695','#4575b4','#74add1','#abd9e9','#e0f3f8','#f1edc6','#fee090','#fdae61','#f46d43','#d73027','#a50026']}};
 T(1704,1132,'cluster',{fs:17});T(1704,1153,'Metastases',{fs:17});T(1704,1174,'OS_event',{fs:17});
 const b={stroke:'#999',lineWidth:1};
 T(1891,1127,'cluster',{fs:19});R(1891,1140,25,24,Object.assign({fill:PINK},b));R(1891,1164,25,24,Object.assign({fill:SKY},b));T(1921,1151,'C1',{fs:19});T(1921,1175,'C2',{fs:19});
 T(1891,1212,'Metastases',{fs:19});R(1891,1226,25,24,Object.assign({fill:MET},b));R(1891,1250,25,25,Object.assign({fill:NONE},b));T(1921,1237,'Metastases',{fs:19});T(1921,1262,'None',{fs:19});
 T(1891,1298,'OS_event',{fs:19});R(1891,1312,25,24,Object.assign({fill:GOOD},b));R(1891,1336,25,25,Object.assign({fill:POOR},b));T(1921,1322,'Good',{fs:19});T(1921,1347,'Poor',{fs:19});
}

const chart=echarts.init(document.getElementById('c'),null,{renderer:'canvas'});
chart.setOption({animation:false,backgroundColor:'#fff',textStyle:{fontFamily:F},grid:grids,xAxis:xAxes,yAxis:yAxes,series,visualMap:window.__vm,graphic:{elements:gfx}});
</script></body></html>
